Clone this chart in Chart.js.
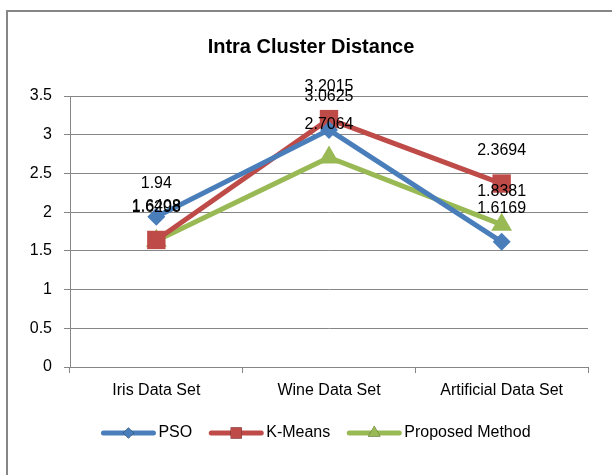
<!DOCTYPE html>
<html>
<head>
<meta charset="utf-8">
<script src="https://cdn.jsdelivr.net/npm/chart.js@4/dist/chart.umd.min.js"></script>
<style>
  html, body { margin: 0; padding: 0; background: #fff; }
  #wrap { width: 612px; height: 475px; position: relative; }
</style>
</head>
<body>
<div id="wrap"><canvas id="chart" width="612" height="475"></canvas></div>
<script>
// ---- data ----
const categories = ["Iris Data Set", "Wine Data Set", "Artificial Data Set"];
const psoValues = [1.94, 3.0625, 1.6169];
const kmeansValues = [1.6408, 3.2015, 2.3694];
const proposedValues = [1.6298, 2.7064, 1.8381];
const seriesNames = ["PSO", "K-Means", "Proposed Method"];
const yTicks = [0, 0.5, 1, 1.5, 2, 2.5, 3, 3.5];

const FONT = "'Liberation Sans', Arial, sans-serif";
const GRID = "#868686";

// value labels above each point
const pointLabels = {
    id: "pointLabels",
    afterDatasetsDraw(chart) {
        const ctx = chart.ctx;
        ctx.save();
        ctx.font = "16px " + FONT;
        ctx.fillStyle = "#000";
        ctx.textAlign = "center";
        ctx.textBaseline = "middle";
        chart.data.datasets.forEach((ds, i) => {
            chart.getDatasetMeta(i).data.forEach((pt, j) => {
                ctx.fillText(String(ds.data[j]), pt.x, pt.y - 33);
            });
        });
        ctx.restore();
    }
};

// title, frame and legend drawn by hand
const decor = {
    id: "decor",
    beforeDraw(chart) {
        const ctx = chart.ctx;
        ctx.save();
        ctx.strokeStyle = GRID;
        ctx.lineWidth = 2;
        ctx.strokeRect(7, 11, 700, 600);
        ctx.restore();
    },
    afterDraw(chart) {
        const ctx = chart.ctx;
        ctx.save();
        ctx.font = "bold 20px " + FONT;
        ctx.fillStyle = "#000";
        ctx.textAlign = "center";
        ctx.textBaseline = "middle";
        ctx.fillText("Intra Cluster Distance", 311, 47);

        // legend
        ctx.font = "16px " + FONT;
        const lineLen = 54, gap = 3, itemGap = 17, y = 433;
        const items = chart.data.datasets.map(ds => ({ ds, w: lineLen + gap + ctx.measureText(ds.label).width }));
        const total = items.reduce((s, it) => s + it.w, 0) + itemGap * (items.length - 1);
        let x = 316 - total / 2;
        items.forEach(it => {
            const ds = it.ds;
            ctx.strokeStyle = ds.borderColor;
            ctx.lineWidth = 5;
            ctx.lineCap = "round";
            ctx.beginPath();
            ctx.moveTo(x + 2, y);
            ctx.lineTo(x + lineLen - 2, y);
            ctx.stroke();
            Chart.helpers.drawPoint(ctx, {
                pointStyle: ds.pointStyle,
                radius: ds.pointRadius * 0.6,
                rotation: 0
            }, x + lineLen / 2, y);
            ctx.fillStyle = ds.borderColor;
            ctx.fill();
            ctx.fillStyle = "#000";
            ctx.textAlign = "left";
            ctx.fillText(ds.label, x + lineLen + gap, y);
            x += it.w + itemGap;
        });
        ctx.restore();
    }
};

function series(label, data, color, style, radius) {
    return {
        label: label,
        data: data,
        borderColor: color,
        backgroundColor: color,
        pointBackgroundColor: color,
        pointBorderColor: color,
        borderWidth: 5,
        pointStyle: style,
        pointRadius: radius,
        pointBorderWidth: 0,
        tension: 0
    };
}

new Chart(document.getElementById("chart"), {
    type: "line",
    data: {
        labels: categories,
        datasets: [
            series(seriesNames[0], psoValues, "#4a7ebb", "rectRot", 9),
            series(seriesNames[1], kmeansValues, "#be4b48", "rect", 13),
            series(seriesNames[2], proposedValues, "#98b954", "triangle", 12)
        ]
    },
    options: {
        responsive: false,
        animation: false,
        layout: { padding: { top: 96, right: 24, left: 0, bottom: 0 } },
        plugins: {
            legend: { display: false },
            title: { display: false },
            tooltip: { enabled: false }
        },
        scales: {
            x: {
                offset: true,
                afterFit(scale) { scale.height = 108; },
                grid: {
                    offset: true,
                    drawOnChartArea: false,
                    drawTicks: true,
                    tickLength: 6,
                    color: GRID
                },
                border: { color: GRID, width: 1 },
                ticks: {
                    color: "#000",
                    font: { family: FONT, size: 16 },
                    padding: 8,
                    maxRotation: 0
                }
            },
            y: {
                min: 0,
                max: 3.5,
                afterFit(scale) { scale.width = 70; },
                afterBuildTicks(scale) { scale.ticks = yTicks.map(v => ({ value: v })); },
                grid: {
                    color: GRID,
                    tickLength: 6
                },
                border: { color: GRID, width: 1 },
                ticks: {
                    color: "#000",
                    font: { family: FONT, size: 16 },
                    padding: 12,
                    callback: v => String(v)
                }
            }
        }
    },
    plugins: [pointLabels, decor]
});
</script>
</body>
</html>
